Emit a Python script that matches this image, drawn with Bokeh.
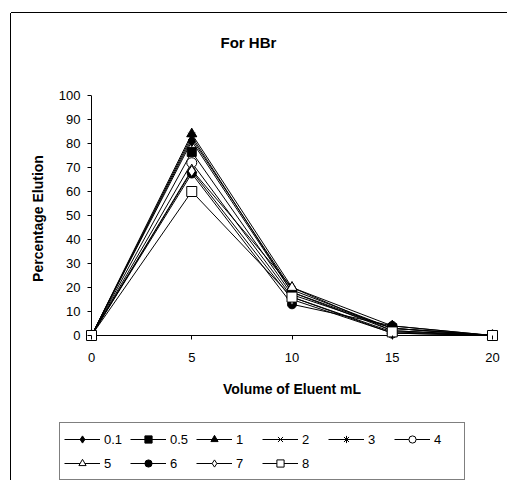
from bokeh.plotting import figure
from bokeh.models import Range1d, Legend, LegendItem, FixedTicker, Title
from bokeh.embed import file_html
from bokeh.resources import INLINE

volume = [0, 5, 10, 15, 20]
labels = ["0.1", "0.5", "1", "2", "3", "4", "5", "6", "7", "8"]
s_01 = [0, 81, 18, 3, 0]
s_05 = [0, 76.5, 17, 3, 0]
s_1 = [0, 84, 20, 4, 0]
s_2 = [0, 82, 19, 3, 0]
s_3 = [0, 83, 18, 2, 0]
s_4 = [0, 72, 16, 1, 0]
s_5 = [0, 69, 20, 2, 0]
s_6 = [0, 67.5, 13, 4, 0]
s_7 = [0, 68.5, 15, 1, 0]
s_8 = [0, 60, 16, 1.5, 0]
series = [s_01, s_05, s_1, s_2, s_3, s_4, s_5, s_6, s_7, s_8]
x_ticks = [0, 5, 10, 15, 20]
y_ticks = [0, 10, 20, 30, 40, 50, 60, 70, 80, 90, 100]

markers = ["diamond", "square", "triangle", "x", "asterisk", "circle",
           "triangle", "circle", "diamond", "square"]
fills = ["black", "black", "black", "black", "black", "white",
         "white", "black", "white", "white"]
sizes = [11, 9, 10, 9, 10, 10, 10, 9, 11, 10]

FONT = "Liberation Sans"

p = figure(width=496, height=402, output_backend="svg", toolbar_location=None,
           title=None,
           x_range=Range1d(-0.3, 20.3), y_range=Range1d(-2.5, 100),
           min_border_left=74, min_border_right=9, min_border_top=82,
           min_border_bottom=74)
p.margin = (13, 0, 0, 11)
p.styles = {"box-shadow": "-1px 0 0 0 black, 0 -1px 0 0 black",
            "vertical-align": "top"}
p.outline_line_color = None
p.xgrid.visible = False
p.ygrid.visible = False

# spacer between plot and title, then the title itself
p.add_layout(Title(text=" ", text_font=FONT, text_font_size="10px",
                   standoff=32), "above")
p.add_layout(Title(text="For HBr", text_font=FONT, text_font_size="15px",
                   text_font_style="bold", text_color="black",
                   align="left", offset=135, standoff=0), "above")

for ax in (p.xaxis[0], p.yaxis[0]):
    ax.axis_line_color = None
    ax.major_tick_line_color = "black"
    ax.minor_tick_line_color = None
    ax.major_tick_in = 6
    ax.major_tick_out = -2
    ax.major_label_text_font = FONT
    ax.major_label_text_font_size = "13px"
    ax.major_label_text_color = "black"
    ax.axis_label_text_font = FONT
    ax.axis_label_text_font_size = "14px"
    ax.axis_label_text_font_style = "bold"
    ax.axis_label_text_color = "black"

p.xaxis[0].ticker = FixedTicker(ticks=x_ticks)
p.yaxis[0].ticker = FixedTicker(ticks=y_ticks)
p.xaxis[0].axis_label = "Volume of Eluent mL"
p.yaxis[0].axis_label = "Percentage Elution"
p.xaxis[0].major_label_standoff = 11
p.xaxis[0].axis_label_standoff = 16
p.yaxis[0].major_label_standoff = 5
p.yaxis[0].axis_label_standoff = 10

# axis lines at the data origin
p.segment(x0=[x_ticks[0]], y0=[y_ticks[0]], x1=[x_ticks[-1]], y1=[y_ticks[0]],
          line_color="black", line_width=1)
p.segment(x0=[x_ticks[0]], y0=[y_ticks[0]], x1=[x_ticks[0]], y1=[y_ticks[-1]],
          line_color="black", line_width=1)

for ys, m, f, s in zip(series, markers, fills, sizes):
    p.line(volume, ys, line_color="black", line_width=1)
    p.scatter(volume, ys, marker=m, size=s, fill_color=f,
              line_color="black", line_width=1)

# legend strip below the chart (same series, renderers hidden)
q = figure(width=496, height=65, output_backend="svg", toolbar_location=None,
           x_range=Range1d(0, 1), y_range=Range1d(0, 1),
           x_axis_location=None, y_axis_location=None, min_border=0,
           min_border_left=0, min_border_right=0, min_border_top=0,
           min_border_bottom=0)
q.margin = (0, 0, 0, 11)
q.styles = {"box-shadow": "-1px 0 0 0 black", "vertical-align": "top"}
q.outline_line_color = None
q.xgrid.visible = False
q.ygrid.visible = False

items = []
for lab, ys, m, f in zip(labels, series, markers, fills):
    lr = q.line(volume, ys, line_color="black", line_width=1, visible=False)
    sr = q.scatter(volume, ys, marker=m, size=7, fill_color=f,
                   line_color="black", line_width=1, visible=False)
    items.append(LegendItem(label=lab, renderers=[lr, sr]))

legend = Legend(items=items, orientation="horizontal", ncols=6,
                location=(48, 0), glyph_width=36, glyph_height=18,
                label_height=24, label_width=26, label_standoff=4,
                spacing=0, padding=4, margin=0,
                border_line_color="black", border_line_width=1,
                label_text_font=FONT, label_text_font_size="13px",
                label_text_color="black",
                background_fill_alpha=1, inactive_fill_alpha=0)
q.add_layout(legend, "center")

open("out.html", "w").write(file_html([p, q], INLINE))
